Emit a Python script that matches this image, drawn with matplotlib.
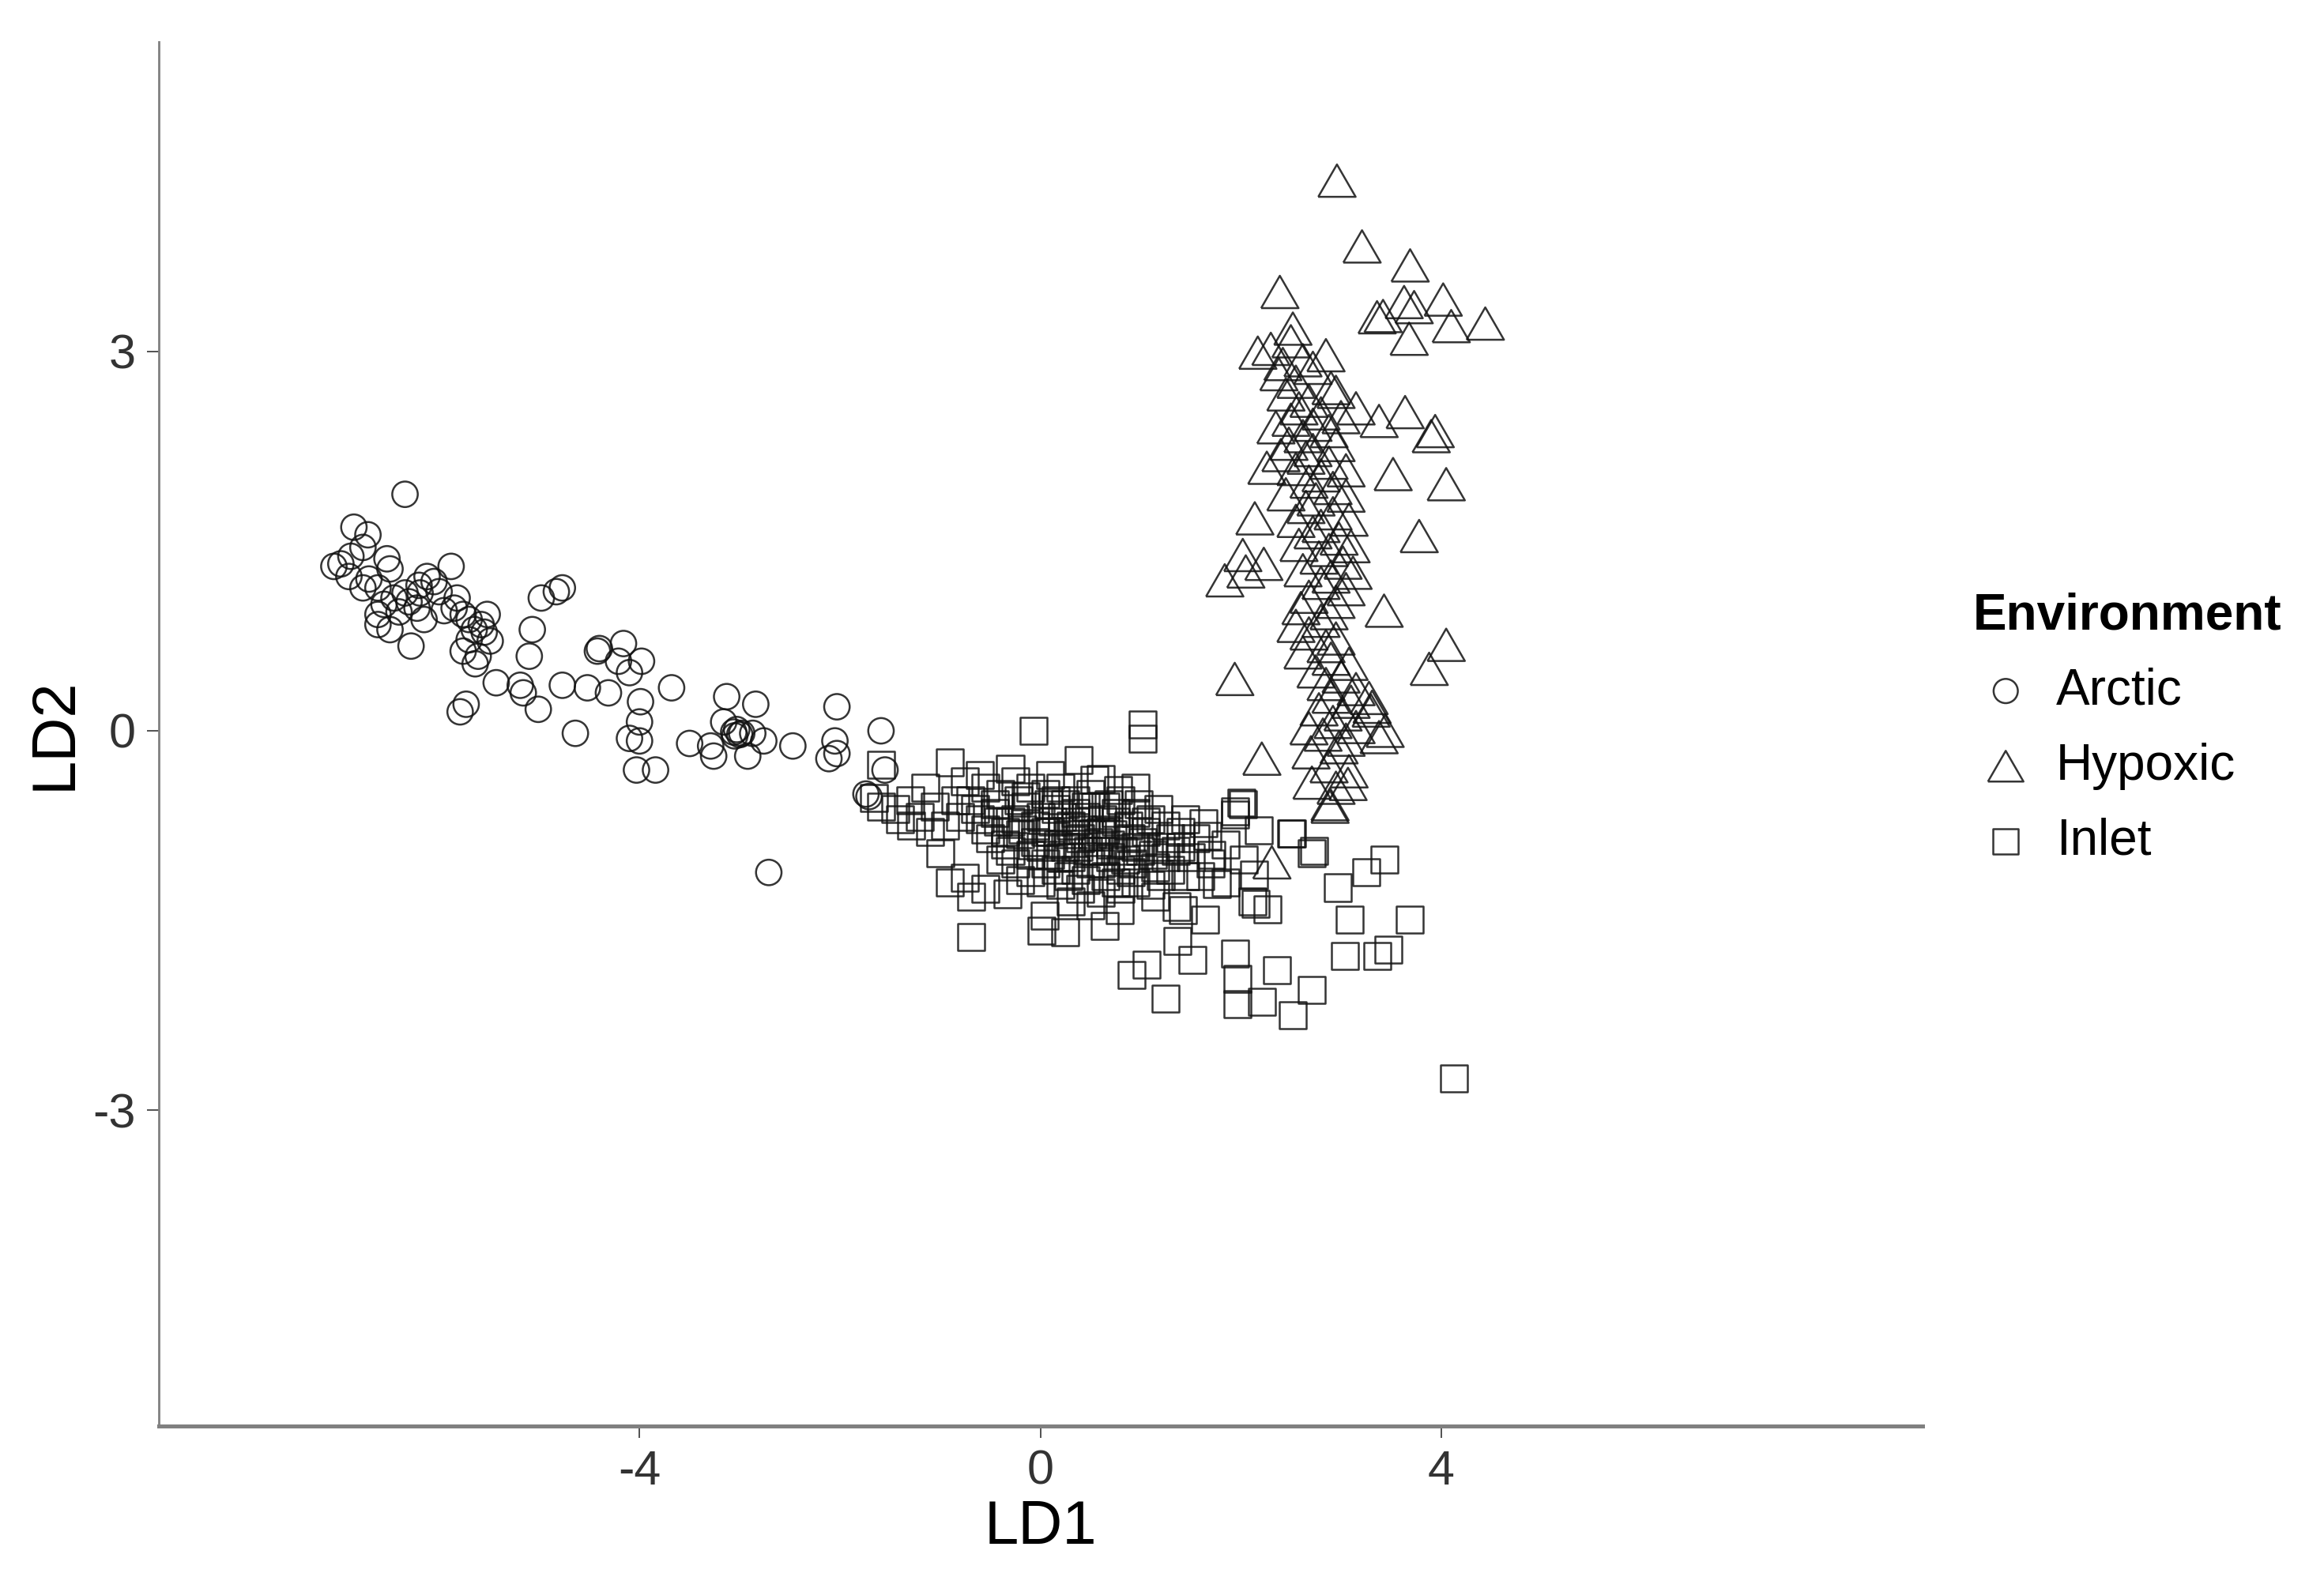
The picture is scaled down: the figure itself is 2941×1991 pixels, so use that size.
import matplotlib
matplotlib.use("Agg")
import matplotlib.pyplot as plt

plt.rcParams['font.family'] = ['Liberation Sans', 'DejaVu Sans']
plt.rcParams['axes.unicode_minus'] = False

# Arctic (circles)
arctic_ld1 = [-6.34, -6.85, -6.71, -6.98, -7.05, -6.88, -6.76, -6.52, -5.88, -6.12,
              -6.49, -6.76, -6.61, -6.34, -6.19, -6.22, -6.40, -6.61, -6.61, -6.49,
              -6.28, -5.82, -5.85, -5.76, -5.52, -5.58, -5.49, -5.76, -5.61, -5.64,
              -4.98, -4.77, -4.83, -5.07, -5.10, -5.43, -5.19, -5.16, -5.01, -5.73,
              -5.79, -4.77, -4.52, -4.31, -4.40, -4.16, -4.21, -3.98, -4.10, -4.42,
              -3.99, -3.68, -4.64, -4.00, -4.10, -4.00, -4.03, -3.84, -3.50, -3.13,
              -2.84, -3.16, -3.06, -3.00, -3.03, -2.98, -3.05, -2.87, -3.29, -3.26,
              -2.92, -2.76, -2.47, -2.03, -2.05, -2.11, -1.59, -1.55, -1.74, -2.71,
              -1.71, -2.03, -6.30, -6.05, -6.45, -6.55, -6.00, -6.20, -5.95, -6.70,
              -6.90, -6.15, -5.55, -5.70, -5.70, -5.65]
arctic_ld2 = [1.87, 1.61, 1.55, 1.32, 1.30, 1.38, 1.45, 1.36, 1.30, 1.22,
              1.28, 1.13, 1.13, 1.09, 1.09, 0.97, 0.94, 0.92, 0.84, 0.80,
              0.67, 1.05, 0.97, 0.92, 0.92, 0.84, 0.71, 0.63, 0.59, 0.53,
              1.05, 1.13, 1.10, 0.80, 0.59, 0.38, 0.36, 0.30, 0.17, 0.21,
              0.15, 0.36, 0.34, 0.30, 0.65, 0.69, 0.55, 0.55, 0.46, 0.63,
              0.23, 0.34, -0.02, 0.07, -0.06, -0.08, -0.31, -0.31, -0.10, 0.27,
              0.21, 0.07, -0.01, -0.03, 0.01, -0.02, -0.04, -0.02, -0.12, -0.20,
              -0.20, -0.08, -0.12, 0.19, -0.08, -0.22, 0.00, -0.31, -0.50, -1.12,
              -0.52, -0.18, 1.02, 1.18, 1.05, 1.00, 1.10, 1.15, 0.95, 1.20,
              1.22, 0.88, 0.78, 0.72, 0.88, 0.80]

# Hypoxic (triangles)
hypoxic_ld1 = [2.96, 3.21, 3.69, 4.02, 4.44, 4.10, 3.68, 3.36, 3.63, 3.73,
               3.42, 3.15, 3.38, 3.64, 3.94, 3.90, 3.52, 4.05, 3.78, 3.43,
               4.05, 3.88, 1.94, 2.21, 2.39, 2.52, 2.17, 2.26, 2.14, 2.02,
               1.84, 2.23, 2.05, 3.31, 3.44, 3.38, 2.68, 2.89, 2.71, 3.07,
               2.31, 2.89,
               2.50, 2.30, 2.62, 2.85, 2.42, 2.38, 2.72, 2.55, 2.90, 2.45,
               2.68, 2.95, 2.58, 2.80, 2.50, 2.72, 3.00, 2.35, 2.62, 2.88,
               2.48, 2.72, 2.95, 2.65, 2.88, 2.40, 2.55, 2.80, 3.05, 2.68,
               2.92, 2.45, 2.75, 3.05, 2.65, 2.92, 2.55, 2.80, 3.08, 2.72,
               2.98, 2.58, 2.88, 3.10, 2.78, 3.02, 2.62, 2.90, 3.12, 2.80,
               3.05, 2.68, 2.95, 2.60, 2.88, 2.80, 2.55, 2.68, 2.95, 2.85,
               2.62, 2.90, 3.08, 2.75, 3.00, 2.85, 3.15, 2.90, 3.10, 3.28,
               2.78, 3.02, 3.30, 2.92, 3.15, 2.82, 3.05, 2.98, 2.70, 2.88,
               3.08, 2.95]
hypoxic_ld2 = [4.35, 3.83, 3.68, 3.41, 3.22, 3.20, 3.10, 3.27, 3.39, 3.35,
               3.28, 2.55, 2.45, 2.52, 2.37, 2.33, 2.03, 1.95, 1.54, 0.95,
               0.68, 0.49, 0.41, -0.22, 3.47, 3.18, 2.99, 2.08, 1.68, 1.39,
               1.19, 1.32, 1.26, 0.19, 0.00, -0.05, 0.02, -0.58, -0.41, -0.42,
               -1.04, -0.60,
               3.08, 3.02, 2.93, 2.97, 2.90, 2.82, 2.87, 2.76, 2.71, 2.66,
               2.61, 2.68, 2.55, 2.51, 2.46, 2.42, 2.48, 2.40, 2.33, 2.37,
               2.27, 2.22, 2.26, 2.16, 2.12, 2.18, 2.07, 2.02, 2.06, 1.97,
               1.92, 1.87, 1.83, 1.86, 1.77, 1.72, 1.66, 1.62, 1.67, 1.57,
               1.52, 1.47, 1.43, 1.46, 1.37, 1.33, 1.27, 1.22, 1.25, 1.17,
               1.12, 1.06, 1.02, 0.97, 0.93, 0.87, 0.83, 0.77, 0.73, 0.67,
               0.62, 0.57, 0.53, 0.47, 0.43, 0.37, 0.33, 0.27, 0.23, 0.26,
               0.17, 0.13, 0.16, 0.07, 0.03, -0.03, -0.07, -0.13, -0.17, -0.28,
               -0.32, -0.45]

# Inlet (squares)
inlet_ld1 = [-0.07, 1.02, 1.02, -0.90, 0.38, -1.59, 0.54, 0.78, 2.01, 1.94,
             -1.59, -1.29, -1.00, -0.75, -0.69, -0.33, -0.69, 0.04, 0.01, 0.25,
             0.64, 0.79, 1.15, 1.36, 1.64, 1.37, 1.52, 1.06, 0.91, 1.25,
             1.94, 1.97, 1.97, 2.21, 2.36, 2.27, 2.12, 2.51, 2.18, 2.03,
             1.67, 2.73, 2.50, 3.43, 3.25, 2.97, 3.09, 3.69, 3.04, 3.36,
             3.47, 4.13, 2.71, 2.52, 1.42, 2.15, 2.13, 1.76, 1.71, 1.94,
             2.02, 1.63, 2.71,
             -1.66, -1.45, -1.30, -1.20, -1.05, -1.40, -1.10, -0.95, -1.15, -0.85,
             -0.70, -0.55, -0.40, -0.25, -0.10, 0.05, 0.20, 0.35, 0.50, 0.65,
             0.80, 0.95, 1.10, 1.25, 1.40,
             -0.60, -0.45, -0.30, -0.15, 0.00, 0.15, 0.30, 0.45, 0.60, 0.75,
             0.90, 1.05, 1.20, 1.35, 1.50,
             -0.50, -0.35, -0.20, -0.05, 0.10, 0.25, 0.40, 0.55, 0.70, 0.85,
             1.00, 1.15, 1.30,
             -0.40, -0.25, -0.10, 0.05, 0.20, 0.35, 0.50, 0.65, 0.80, 0.95,
             1.10,
             -0.20, 0.00, 0.20, 0.40, 0.60, 0.80, 0.30, 0.50,
             -0.05, 0.12, 0.28, 0.42, 0.58, 0.72, 0.18, 0.48, 0.62, 0.35,
             0.08, -0.22, 0.88, 1.02, 0.55, 0.25, -0.35, 0.70, 0.92, 0.15,
             -0.60, -0.30, 0.10, 0.60, 0.95, -0.75, -0.90, -0.55,
             1.55, 1.70, 1.85, 1.60, 1.45, 1.85,
             -0.45, -0.15, 0.15, 0.45, 0.75, 1.05, 1.30, -0.55, -0.25, 0.05,
             0.35, 0.65, 0.95, 1.25, -0.30, 0.00, 0.30, 0.60, 0.90, 1.20,
             -0.10, 0.45, 0.75, 1.40, 1.45, -0.65, -0.80, 0.22, 0.52, 0.82,
             1.12, -0.18, 0.38, 0.68, 0.98, 1.18, 0.10, -0.42, 0.62, 0.28]
inlet_ld2 = [0.00, 0.05, -0.06, -0.25, -0.23, -0.27, -0.39, -0.47, -0.57, -0.64,
             -0.60, -0.75, -0.97, -1.16, -1.31, -1.29, -1.63, -1.46, -1.58, -1.59,
             -1.54, -1.42, -1.31, -1.39, -1.49, -1.66, -1.81, -1.85, -1.93, -2.12,
             -1.76, -1.96, -2.16, -2.14, -1.89, -1.41, -1.35, -0.81, -0.79, -1.02,
             -0.83, -0.95, -0.81, -1.02, -1.12, -1.24, -1.49, -1.49, -1.78, -1.78,
             -1.73, -2.75, -2.05, -2.25, -1.42, -1.37, -1.14, -1.21, -0.98, -0.66,
             -0.58, -0.73, -0.97,
             -0.53, -0.62, -0.55, -0.68, -0.60, -0.70, -0.80, -0.75, -0.45, -0.55,
             -0.55, -0.45, -0.50, -0.40, -0.45, -0.50, -0.45, -0.55, -0.50, -0.60,
             -0.55, -0.65, -0.70, -0.75, -0.80,
             -0.70, -0.65, -0.72, -0.60, -0.68, -0.62, -0.75, -0.68, -0.80, -0.72,
             -0.85, -0.80, -0.92, -0.95, -1.00,
             -0.85, -0.90, -0.82, -0.88, -0.80, -0.92, -0.85, -0.95, -0.90, -1.02,
             -0.95, -1.08, -1.10,
             -1.02, -1.05, -0.98, -1.05, -1.00, -1.10, -1.05, -1.15, -1.10, -1.20,
             -1.22,
             -1.18, -1.20, -1.22, -1.25, -1.28, -1.25, -1.35, -1.38,
             -0.75, -0.72, -0.82, -0.78, -0.88, -0.82, -0.90, -0.95, -0.70, -0.65,
             -0.58, -0.55, -0.75, -0.88, -0.60, -0.58, -0.80, -1.00, -1.05, -1.10,
             -0.35, -0.30, -0.35, -0.38, -0.45, -0.40, -1.20, -1.25,
             -0.85, -1.05, -0.90, -1.15, -1.15, -1.20,
             -0.58, -0.52, -0.55, -0.60, -0.65, -0.72, -0.85, -0.78, -0.70, -0.80,
             -0.72, -0.78, -0.92, -1.00, -0.95, -0.92, -1.00, -1.05, -1.12, -1.15,
             -1.12, -1.18, -1.20, -0.92, -0.70, -0.62, -0.68, -0.68, -0.82, -0.95,
             -0.98, -0.78, -0.92, -0.58, -0.58, -0.62, -0.98, -0.72, -0.95, -1.15]

groups = ['Arctic', 'Hypoxic', 'Inlet']
tri = [(-1, -0.866), (1, -0.866), (0, 0.866), (-1, -0.866)]

fig = plt.figure(figsize=(14.705, 9.955), dpi=200)
ax = fig.add_axes([0.0682, 0.0932, 0.7589, 0.8804])

edge = '#111111'
ax.scatter(arctic_ld1, arctic_ld2, s=135, marker='o', facecolors='none',
           edgecolors=edge, linewidths=0.9, alpha=0.85, label=groups[0])
ax.scatter(hypoxic_ld1, hypoxic_ld2, s=290, marker=tri, facecolors='none',
           edgecolors=edge, linewidths=0.9, alpha=0.85, label=groups[1])
ax.scatter(inlet_ld1, inlet_ld2, s=150, marker='s', facecolors='none',
           edgecolors=edge, linewidths=0.9, alpha=0.85, label=groups[2])

ax.set_xlim(-8.8, 8.8)
ax.set_ylim(-5.5, 5.45)
ax.set_xticks([-4, 0, 4])
ax.set_yticks([-3, 0, 3])
ax.tick_params(axis='both', labelsize=22, labelcolor='#333333', color='#333333',
               length=5.5, width=0.6, pad=5)

ax.spines['top'].set_visible(False)
ax.spines['right'].set_visible(False)
ax.spines['left'].set_color('#808080')
ax.spines['left'].set_linewidth(1.0)
ax.spines['bottom'].set_color('#808080')
ax.spines['bottom'].set_linewidth(1.8)

ax.set_xlabel('LD1', fontsize=28, labelpad=2)
ax.set_ylabel('LD2', fontsize=28, labelpad=4)

leg = ax.legend(title='Environment', loc='center left', bbox_to_anchor=(1.003, 0.504),
                frameon=False, fontsize=23, title_fontproperties={'weight': 'bold', 'size': 23},
                markerscale=0.95, handletextpad=0.35, labelspacing=0.55,
                handlelength=1.3, alignment='left')
for h in leg.legend_handles:
    h.set_alpha(0.85)

fig.savefig('out.png', dpi=200, facecolor='white')
